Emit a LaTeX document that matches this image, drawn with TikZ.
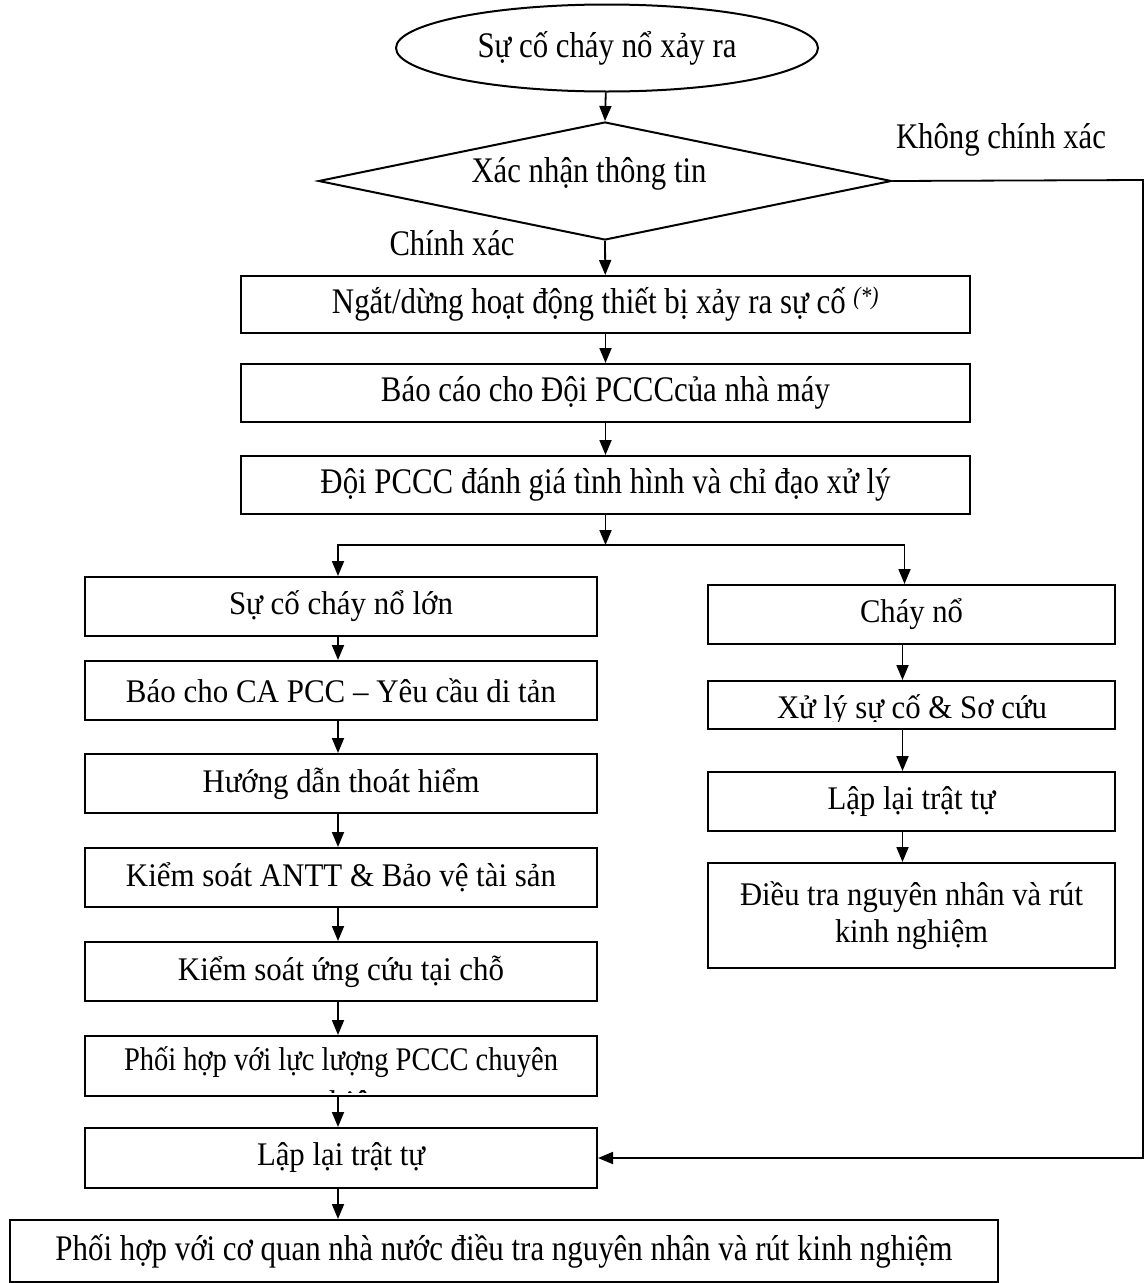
\documentclass[tikz,border=0pt]{standalone}
\usepackage{fontspec}
\setmainfont{Liberation Serif}
\usetikzlibrary{shapes.geometric,arrows.meta}
% set a text to a given width, keeping its natural height
\newcommand\fw[2]{\resizebox{#1pt}{\height}{#2}}
\begin{document}
\begin{tikzpicture}[x=1pt,y=-1pt,
  every node/.style={font=\fontsize{33}{37}\selectfont},
  tall/.style={font=\fontsize{36}{40}\selectfont},
  box/.style={draw, line width=2pt, inner sep=0pt, align=center},
  arr/.style={line width=1.8pt, -{Triangle[length=15pt,width=12pt]}},
  lbl/.style={inner sep=0pt}]
\useasboundingbox[fill=white] (0,0) rectangle (1145,1283);

% start and decision
\node[box, tall, ellipse, minimum width=422pt, minimum height=87pt] (start) at (607,48) {\fw{259}{Sự cố cháy nổ xảy ra}};
\node[draw, line width=2pt, diamond, aspect=4.86, minimum width=573pt, minimum height=118pt, inner sep=0pt] (dec) at (605,181) {};
\node[lbl, tall] (dectext) at (589,174) {\fw{235}{Xác nhận thông tin}};
\node[lbl, tall] (yes) at (452,243) {\fw{125}{Chính xác}};
\node[lbl, tall] (no) at (1001,140) {\fw{210}{Không chính xác}};

% common steps
\node[box, tall, minimum width=729pt, minimum height=57pt] (b1) at (605.5,304.5) {\fw{547}{Ngắt/dừng hoạt động thiết bị xảy ra sự cố \textsuperscript{\itshape(*)}}};
\node[box, tall, minimum width=729pt, minimum height=58pt] (b2) at (605.5,393) {\fw{449}{Báo cáo cho Đội PCCCcủa nhà máy}};
\node[box, tall, minimum width=729pt, minimum height=58pt] (b3) at (605.5,485) {\fw{570}{Đội PCCC đánh giá tình hình và chỉ đạo xử lý}};
\coordinate (split) at (605.5,545);

% left branch: major fire
\node[box, minimum width=512pt, minimum height=59pt] (L1) at (341,606.5) {\fw{224}{Sự cố cháy nổ lớn}};
\node[box, minimum width=512pt, minimum height=59pt] (L2) at (341,690.5) {\fw{430}{Báo cho CA PCC – Yêu cầu di tản}};
\node[box, minimum width=512pt, minimum height=59pt] (L3) at (341,783.5) {\fw{277}{Hướng dẫn thoát hiểm}};
\node[box, minimum width=512pt, minimum height=59pt] (L4) at (341,877.5) {\fw{430}{Kiểm soát ANTT \& Bảo vệ tài sản}};
\node[box, minimum width=512pt, minimum height=59pt] (L5) at (341,971.5) {\fw{326}{Kiểm soát ứng cứu tại chỗ}};
\node[box, minimum width=512pt, minimum height=60pt] (L6) at (341,1066) {};
\begin{scope}
  \clip (85,1036) rectangle (597,1092);
  \node[lbl, anchor=base] (L6t) at (341,1070) {\fw{434}{Phối hợp với lực lượng PCCC chuyên}};
  \node[lbl, anchor=base] (L6u) at (341,1113) {nghiệp};
\end{scope}
\node[box, minimum width=512pt, minimum height=60pt] (L7) at (341,1158) {\fw{168}{Lập lại trật tự}};
\node[box, tall, minimum width=988pt, minimum height=62pt] (fin) at (504,1251) {\fw{897}{Phối hợp với cơ quan nhà nước điều tra nguyên nhân và rút kinh nghiệm}};

% right branch: fire
\node[box, minimum width=407pt, minimum height=59pt] (R1) at (911.5,614.5) {\fw{103}{Cháy nổ}};
\node[box, minimum width=407pt, minimum height=48pt] (R2) at (911.5,705) {};
\begin{scope}
  \clip (708,681) rectangle (1115,721);
  \node[lbl, anchor=base] (R2t) at (912,718) {\fw{270}{Xử lý sự cố \& Sơ cứu}};
\end{scope}
\node[box, minimum width=407pt, minimum height=59pt] (R3) at (911.5,801.5) {\fw{168}{Lập lại trật tự}};
\node[box, minimum width=407pt, minimum height=105pt] (R4) at (911.5,915.5) {\fw{343}{Điều tra nguyên nhân và rút}\\\fw{153}{kinh nghiệm}};

% connectors
\draw[arr] (start) -- (dec.north);
\draw[arr] (dec.south) -- (b1);
\draw[arr] (b1) -- (b2);
\draw[arr] (b2) -- (b3);
\draw[arr] (b3) -- (split);
\draw[arr] (split) -| ([xshift=-3pt]L1.north);
\draw[arr] (split) -| ([xshift=-7pt]R1.north);
\foreach \a/\b in {L1/L2,L2/L3,L3/L4,L4/L5,L5/L6,L6/L7}
  \draw[arr] ([xshift=-3pt]\a.south) -- ([xshift=-3pt]\b.north);
\draw[arr] ([xshift=-3pt]L7.south) -- ([xshift=-3pt]L7.south |- fin.north);
\draw[arr] ([xshift=-9pt]R1.south) -- ([xshift=-9pt]R2.north);
\draw[arr] ([xshift=-9pt]R2.south) -- ([xshift=-9pt]R3.north);
\draw[arr] ([xshift=-9pt]R3.south) -- ([xshift=-9pt]R4.north);
\coordinate (edge) at (1143,180);
\draw[arr] (dec.east) -- (edge) |- (L7.east);
\end{tikzpicture}
\end{document}
